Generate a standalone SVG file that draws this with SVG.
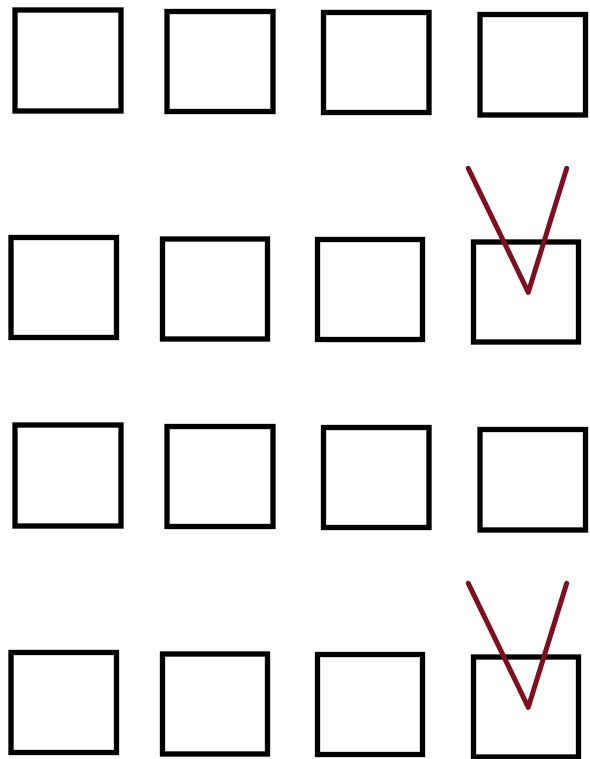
<svg xmlns="http://www.w3.org/2000/svg" width="590" height="759" viewBox="0 0 590 759">
<style>
.box{fill:none;stroke:#000;stroke-width:5.3}
.mark{fill:none;stroke:#7f0f1f;stroke-width:5;stroke-linecap:round;stroke-linejoin:round}
</style>
<rect width="590" height="759" fill="#fff"/>
<g id="row1">
<g id="r1c1"><rect class="box" x="15" y="10" width="106" height="101"/></g>
<g id="r1c2"><rect class="box" x="167" y="11.5" width="106" height="100"/></g>
<g id="r1c3"><rect class="box" x="323.5" y="12.5" width="105.5" height="100"/></g>
<g id="r1c4"><rect class="box" x="480" y="14.5" width="105.5" height="100.5"/></g>
</g>
<g id="row2">
<g id="r2c1"><rect class="box" x="11" y="237.5" width="105.5" height="100"/></g>
<g id="r2c2"><rect class="box" x="162.5" y="239" width="105" height="100"/></g>
<g id="r2c3"><rect class="box" x="317.5" y="239.5" width="105" height="100"/></g>
<g id="r2c4"><rect class="box" x="473.5" y="242" width="105" height="100"/></g>
<polyline class="mark" points="468.3,168.3 528.3,292.3 566.7,168.3"/>
</g>
<g id="row3" transform="translate(0,415)">
<g id="r3c1"><rect class="box" x="15" y="10" width="106" height="101"/></g>
<g id="r3c2"><rect class="box" x="167" y="11.5" width="106" height="100"/></g>
<g id="r3c3"><rect class="box" x="323.5" y="12.5" width="105.5" height="100"/></g>
<g id="r3c4"><rect class="box" x="480" y="14.5" width="105.5" height="100.5"/></g>
</g>
<g id="row4" transform="translate(0,415)">
<g id="r4c1"><rect class="box" x="11" y="237.5" width="105.5" height="100"/></g>
<g id="r4c2"><rect class="box" x="162.5" y="239" width="105" height="100"/></g>
<g id="r4c3"><rect class="box" x="317.5" y="239.5" width="105" height="100"/></g>
<g id="r4c4"><rect class="box" x="473.5" y="242" width="105" height="100"/></g>
<polyline class="mark" points="468.3,168.3 528.3,292.3 566.7,168.3"/>
</g>
</svg>
